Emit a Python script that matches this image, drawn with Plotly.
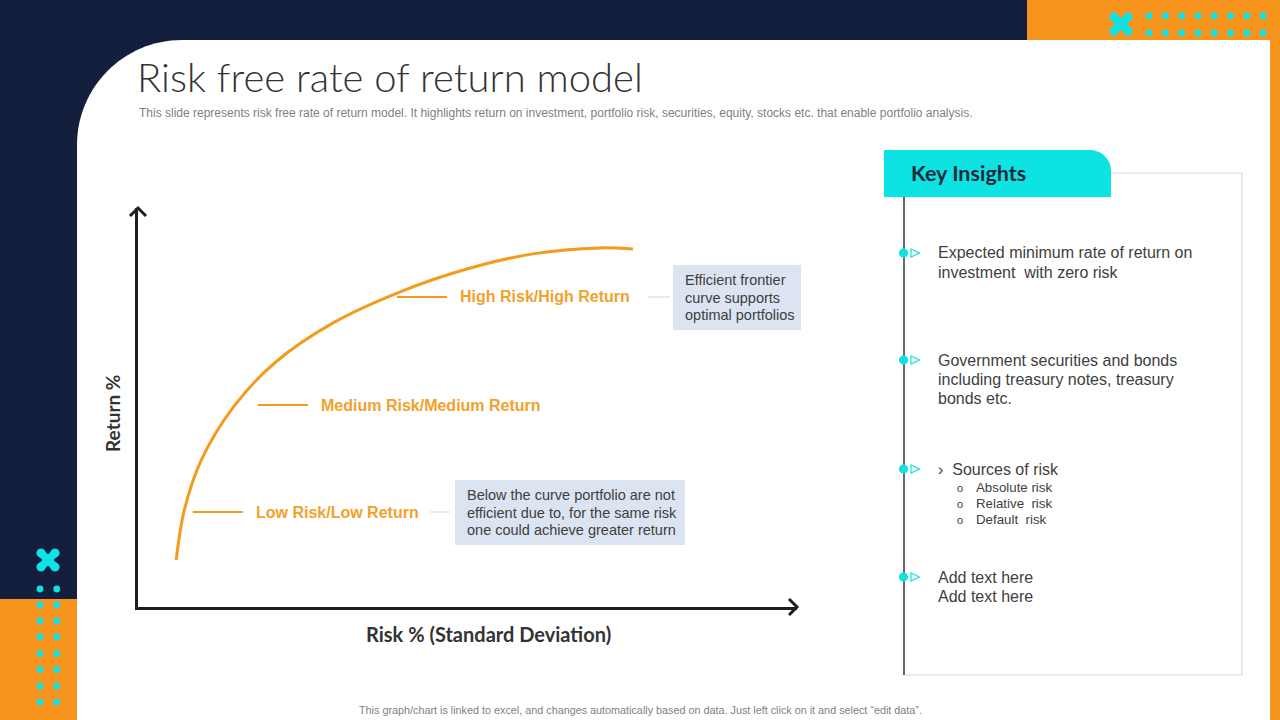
import plotly.graph_objects as go

W, H = 1280, 720

# efficient frontier (risk %, return %)
risk = [5.8, 7.0, 9.6, 14.6, 20.9, 29.6, 39.8, 49.9, 59.9, 70.1, 75.1]
ret = [11.8, 24.1, 36.8, 50.4, 61.4, 71.2, 79.0, 84.7, 88.5, 90.0, 89.7]

# callouts along the curve
zone_labels = ["Low Risk/Low Return", "Medium Risk/Medium Return", "High Risk/High Return"]
zone_risk = [8.3, 18.2, 39.3]
zone_return = [23.8, 50.6, 77.7]

note_low = ["Below the curve portfolio are not", "efficient due to, for the same risk", "one could achieve greater return"]
note_high = ["Efficient frontier", "curve supports", "optimal portfolios"]

insights = [
    ["Expected minimum rate of return on", "investment  with zero risk"],
    ["Government securities and bonds", "including treasury notes, treasury", "bonds etc."],
    ["›  Sources of risk"],
    ["Add text here", "Add text here"],
]
risk_sources = ["Absolute risk", "Relative  risk", "Default  risk"]

title = "Risk free rate of return model"
subtitle = ("This slide represents risk free rate of return model. It highlights return on investment, "
            "portfolio risk, securities, equity, stocks etc. that enable portfolio analysis.")
footer = ("This graph/chart is linked to excel, and changes automatically based on data. "
          "Just left click on it and select \u201cedit data\u201d.")

NAVY = "#131f3d"
ORANGE = "#f7941d"
CURVE = "#f29b1d"
LABEL = "#f3a12c"
CYAN = "#0de3e3"
GREY_TXT = "#404040"


def px(x):
    return x / W


def py(y):
    return 1 - y / H


def path(points, close=False):
    s = "M " + " L ".join(f"{px(x):.5f},{py(y):.5f}" for x, y in points)
    return s + (" Z" if close else "")


shapes = []
annos = []


def rect(x0, y0, x1, y1, fill, line=None, lw=0, layer="below"):
    shapes.append(dict(type="rect", xref="paper", yref="paper", x0=px(x0), x1=px(x1),
                       y0=py(y1), y1=py(y0), fillcolor=fill, layer=layer,
                       line=dict(color=line or fill, width=lw)))


def seg(x0, y0, x1, y1, color, w=1, layer="above"):
    shapes.append(dict(type="line", xref="paper", yref="paper", x0=px(x0), x1=px(x1),
                       y0=py(y0), y1=py(y1), layer=layer, line=dict(color=color, width=w)))


def dot(cx, cy, r, color, layer="above"):
    shapes.append(dict(type="circle", xref="paper", yref="paper", x0=px(cx - r), x1=px(cx + r),
                       y0=py(cy + r), y1=py(cy - r), fillcolor=color, layer=layer,
                       line=dict(color=color, width=0)))


def text(x, y, s, size, color, family="Liberation Sans", anchor="left", bold=False, angle=0, weight=None):
    annos.append(dict(x=px(x), y=py(y), xref="paper", yref="paper", text=s, showarrow=False,
                      xanchor=anchor, yanchor="middle", align="left", textangle=angle,
                      font=dict(size=size, color=color, family=family,
                                weight=weight or ("bold" if bold else "normal"))))


def cross(cx, cy, color):
    a = 7
    for sx in (1, -1):
        seg(cx - a, cy - a * sx, cx + a, cy + a * sx, color, w=8)
        dot(cx - a, cy - a * sx, 4.6, color)
        dot(cx + a, cy + a * sx, 4.6, color)


# ---- slide background ----
rect(1027, 0, 1280, 40, ORANGE)
rect(1270, 0, 1280, 720, ORANGE)
rect(0, 599, 77, 720, ORANGE)
r = 105
k = 0.5523 * r
shapes.append(dict(type="path", xref="paper", yref="paper", layer="below", fillcolor="white",
                   line=dict(width=0),
                   path=(f"M {px(77)},{py(720)} L {px(77)},{py(40 + r)} "
                         f"C {px(77)},{py(40 + r - k)} {px(77 + r - k)},{py(40)} {px(77 + r)},{py(40)} "
                         f"L {px(1270)},{py(40)} L {px(1270)},{py(720)} Z")))

# cyan decorations
cross(1121, 24, CYAN)
for yy in (16, 33):
    for xx in (1149, 1165.3, 1181.6, 1198, 1214.2, 1230.5, 1246.8, 1263):
        dot(xx, yy, 3.4, CYAN)
cross(48, 560, CYAN)
for yy in (589, 605, 621, 637, 653.5, 669.5, 686, 702):
    for xx in (40, 56.7):
        dot(xx, yy, 3.4, CYAN)

# ---- titles ----
text(135, 77, title, 40, "#333333", family="Lato", weight=300)
text(137, 113, subtitle, 12, "#7f7f7f")
text(640, 710, footer, 10.8, "#7f7f7f", anchor="center")

# ---- chart furniture ----
AX = "#1e1e1e"
shapes.append(dict(type="path", xref="paper", yref="paper", layer="above",
                   path=path([(789, 599), (797, 607), (789, 615)]), line=dict(color=AX, width=3)))
shapes.append(dict(type="path", xref="paper", yref="paper", layer="above",
                   path=path([(130, 216), (138, 208), (146, 216)]), line=dict(color=AX, width=3)))
text(113, 414, "Return %", 19, "#333333", family="Lato", anchor="center", bold=True, angle=-90)
text(488, 634, "Risk % (Standard Deviation)", 20, "#333333", family="Lato", anchor="center", bold=True)

# callout lines + labels, placed on the chart's own axes
for lab, xr, yr in zip(zone_labels, zone_risk, zone_return):
    shapes.append(dict(type="line", xref="x", yref="y", x0=xr, x1=xr + 7.6, y0=yr, y1=yr,
                       line=dict(color=CURVE, width=2)))
    annos.append(dict(x=xr + 9.3, y=yr, xref="x", yref="y", text=lab, showarrow=False,
                      xanchor="left", yanchor="middle",
                      font=dict(size=16, color=LABEL, family="Liberation Sans", weight="bold")))

# note boxes
seg(430, 512, 450, 512, "#d6d6d6", w=1)
rect(455, 480, 685, 545, "#dce3f1", layer="above")
for i, s in enumerate(note_low):
    text(465, 495 + i * 17.5, s, 14.5, GREY_TXT)
seg(648, 297, 670, 297, "#d6d6d6", w=1)
rect(673, 265, 801, 330, "#dce3f1", layer="above")
for i, s in enumerate(note_high):
    text(683, 280 + i * 17.5, s, 14.5, GREY_TXT)

# ---- key insights panel ----
rect(904, 173, 1242, 675, "white", line="#d9d9d9", lw=1)
rh = 21
kh = 0.5523 * rh
shapes.append(dict(type="path", xref="paper", yref="paper", layer="above", fillcolor=CYAN,
                   line=dict(width=0),
                   path=(f"M {px(884)},{py(197)} L {px(884)},{py(150)} L {px(1111 - rh)},{py(150)} "
                         f"C {px(1111 - rh + kh)},{py(150)} {px(1111)},{py(150 + rh - kh)} {px(1111)},{py(150 + rh)} "
                         f"L {px(1111)},{py(197)} Z")))
text(909, 173, "Key Insights", 21.5, "#1b2a3a", family="Lato", bold=True)
seg(904, 197, 904, 675, "#111111", w=1.2)

bullet_y = [253, 360, 469, 577]
for by, lines in zip(bullet_y, insights):
    dot(903.5, by, 4.6, CYAN)
    shapes.append(dict(type="path", xref="paper", yref="paper", layer="above",
                       path=path([(911, by - 4), (919.5, by), (911, by + 4)], close=True),
                       line=dict(color=CYAN, width=1.2)))
    for i, s in enumerate(lines):
        text(936, by + i * 19, s, 16, GREY_TXT)
for i, s in enumerate(risk_sources):
    text(955, 488 + i * 16, "o", 11, GREY_TXT)
    text(974, 487 + i * 16, s, 13.3, GREY_TXT)

fig = go.Figure()
fig.add_trace(go.Scatter(x=risk, y=ret, mode="lines", hoverinfo="skip",
                         line=dict(color=CURVE, width=3, shape="spline", smoothing=1)))

fig.update_layout(
    width=W, height=H, margin=dict(l=0, r=0, t=0, b=0),
    paper_bgcolor=NAVY, plot_bgcolor="rgba(0,0,0,0)", showlegend=False,
    shapes=shapes, annotations=annos,
    xaxis=dict(domain=[px(138), px(797)], range=[0, 100], showline=True, linecolor=AX, linewidth=3,
               showgrid=False, zeroline=False, showticklabels=False, ticks="", fixedrange=True),
    yaxis=dict(domain=[py(607), py(208)], range=[0, 100], showline=True, linecolor=AX, linewidth=3,
               showgrid=False, zeroline=False, showticklabels=False, ticks="", fixedrange=True),
)

fig.write_html("out.html", config={"displayModeBar": False},
               post_script="document.body.style.margin='0';document.body.style.overflow='hidden';")
